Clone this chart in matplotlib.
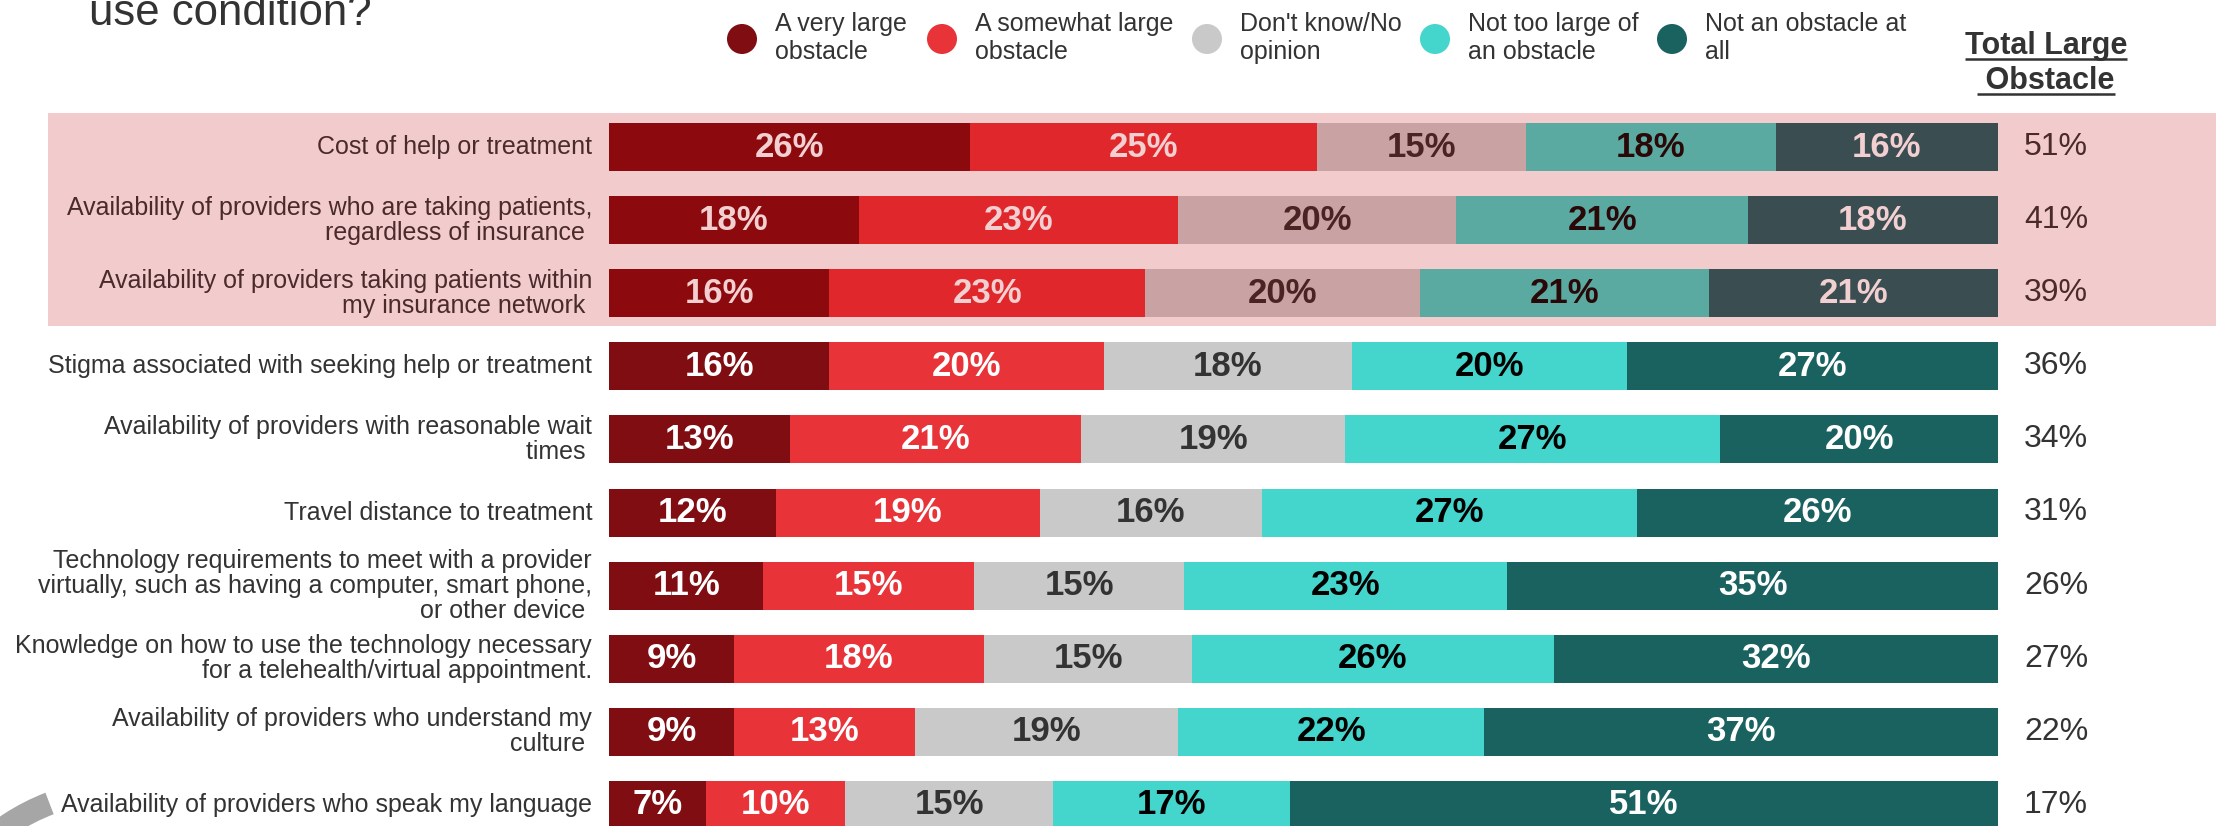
import matplotlib
matplotlib.use("Agg")
import matplotlib.pyplot as plt
from matplotlib.patches import Rectangle, Circle, Wedge
import numpy as np

plt.rcParams['font.family'] = ['Liberation Sans', 'DejaVu Sans']

categories = [
    "Cost of help or treatment",
    "Availability of providers who are taking patients,\nregardless of insurance ",
    "Availability of providers taking patients within\nmy insurance network ",
    "Stigma associated with seeking help or treatment",
    "Availability of providers with reasonable wait\ntimes ",
    "Travel distance to treatment",
    "Technology requirements to meet with a provider\nvirtually, such as having a computer, smart phone,\nor other device ",
    "Knowledge on how to use the technology necessary\nfor a telehealth/virtual appointment.",
    "Availability of providers who understand my\nculture ",
    "Availability of providers who speak my language",
]
series_names = [
    "A very large\nobstacle",
    "A somewhat large\nobstacle",
    "Don't know/No\nopinion",
    "Not too large of\nan obstacle",
    "Not an obstacle at\nall",
]
very_large = [26, 18, 16, 16, 13, 12, 11, 9, 9, 7]
somewhat_large = [25, 23, 23, 20, 21, 19, 15, 18, 13, 10]
dont_know = [15, 20, 20, 18, 19, 16, 15, 15, 19, 15]
not_too_large = [18, 21, 21, 20, 27, 27, 23, 26, 22, 17]
not_obstacle = [16, 18, 21, 27, 20, 26, 35, 32, 37, 51]
total_large = [51, 41, 39, 36, 34, 31, 26, 27, 22, 17]
highlighted = [0, 1, 2]

colors = ['#7f0d12', '#e83339', '#c9c9c9', '#44d6cd', '#1a6260']
text_colors = ['white', 'white', '#333333', 'black', 'white']
# same palette washed with the pink highlight band
hl_colors = ['#8c0a0e', '#e0282c', '#c9a3a3', '#5aaaa2', '#3a4d50']
hl_text_colors = ['#f2cfd0', '#f2cfd0', '#4a2323', '#2a0808', '#f2cfd0']
pink = '#f2cbcc'

W, H = 2216, 826
row_y0, row_step = 147, 73.1

fig = plt.figure(figsize=(W / 100, H / 100), dpi=100)
fig.patch.set_facecolor('white')

# background layer in pixel units: highlight band, labels, legend
bg = fig.add_axes([0, 0, 1, 1])
bg.set_xlim(0, W)
bg.set_ylim(H, 0)
bg.axis('off')

bg.add_patch(Rectangle((48, 113), W - 48, 213, color=pink, lw=0))
bg.add_patch(Wedge((125, 1000), 222, 225, 249, width=23, color='#a6a6a6', lw=0))

bg.text(89, 25, "use condition?", fontsize=31.5, color='#333333', va='baseline')

legend_x = [742, 942, 1207, 1435, 1672]
for i, name in enumerate(series_names):
    bg.add_patch(Circle((legend_x[i], 39), 15, color=colors[i], lw=0))
    bg.text(legend_x[i] + 33, 38, name, fontsize=18, color='#333333',
            va='center', ha='left', linespacing=1.2)

head = []
for txt, yb in [("Total Large", 54), (" Obstacle", 89)]:
    head.append(bg.text(2046, yb, txt, fontsize=22, fontweight='bold',
                        color='#333333', ha='center', va='baseline'))

for i, cat in enumerate(categories):
    yc = row_y0 + row_step * i
    c = '#4a2a2a' if i in highlighted else '#333333'
    bg.text(592, yc, cat, fontsize=18, color=c, ha='right', va='center',
            linespacing=1.05)
    bg.text(2024, yc, f"{total_large[i]}%", fontsize=23, color=c,
            ha='left', va='center')

# stacked bars, each row scaled to its own total
ax = fig.add_axes([609 / W, 0, (1998 - 609) / W, 1])
ax.set_zorder(1)
ax.patch.set_alpha(0)
ax.set_xlim(0, 1)
ax.set_ylim((H - row_y0) / row_step, -row_y0 / row_step)
ax.axis('off')

data = np.array([very_large, somewhat_large, dont_know, not_too_large, not_obstacle], dtype=float)
shares = data / data.sum(axis=0)
y = np.arange(len(categories))
left = np.zeros(len(categories))
for s in range(len(data)):
    fc = [hl_colors[s] if i in highlighted else colors[s] for i in y]
    ax.barh(y, shares[s], left=left, height=48 / row_step, color=fc, lw=0)
    for i in y:
        tc = hl_text_colors[s] if i in highlighted else text_colors[s]
        ax.text(left[i] + shares[s][i] / 2, i, f"{int(data[s][i])}%",
                ha='center', va='center', fontsize=25, fontweight='bold', color=tc)
    left += shares[s]

# underline the column header
fig.canvas.draw()
r = fig.canvas.get_renderer()
inv = bg.transData.inverted()
for t, yb in zip(head, [54, 89]):
    bb = t.get_window_extent(r)
    x0, _ = inv.transform((bb.x0, 0))
    x1, _ = inv.transform((bb.x1, 0))
    bg.plot([x0, x1], [yb + 5, yb + 5], color='#333333', lw=1.8,
            solid_capstyle='butt')

fig.savefig("out.png", dpi=100)
